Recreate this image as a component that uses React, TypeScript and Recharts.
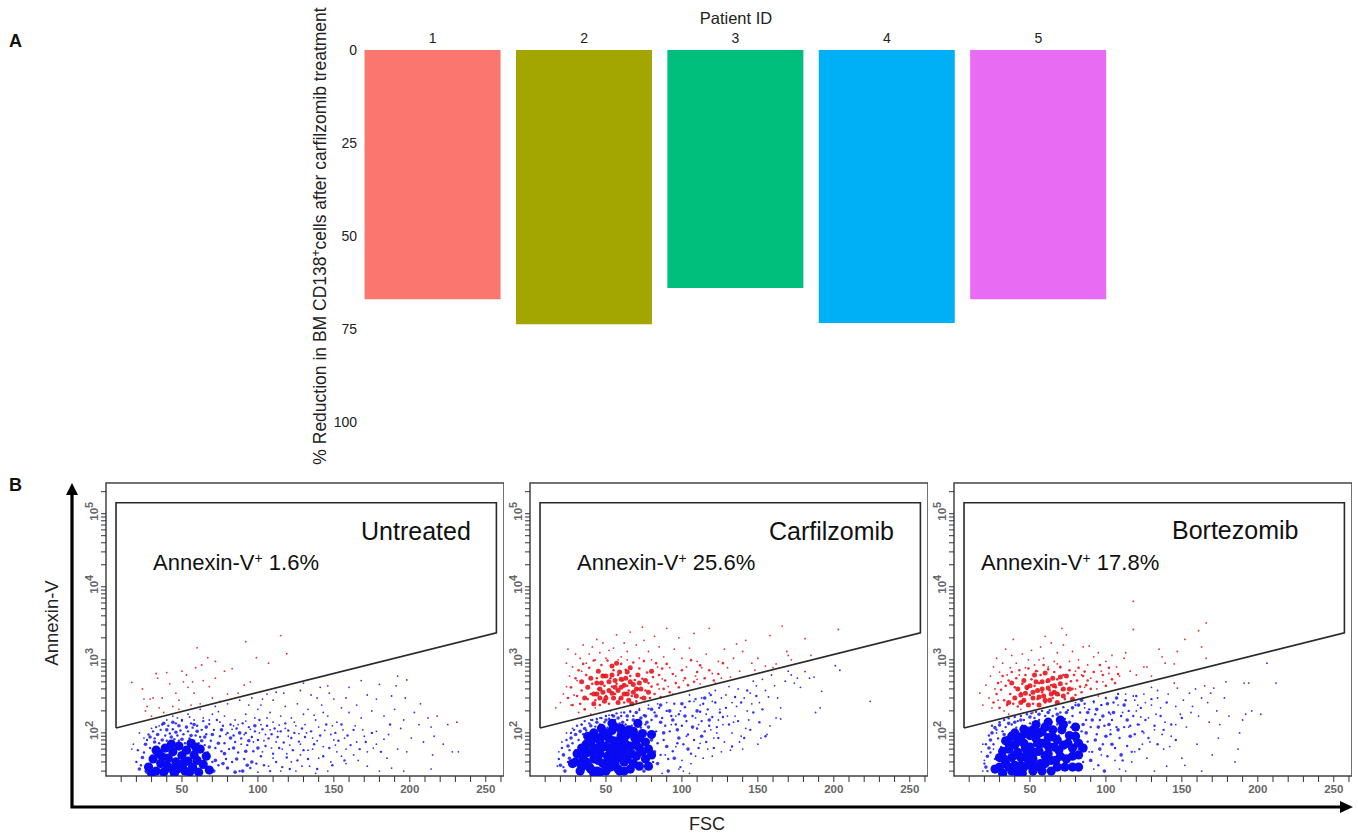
import React from "react";
import { BarChart, Bar, Cell, XAxis, YAxis, ScatterChart, Scatter, ReferenceArea } from "recharts";

type P = [number, number];

const patientIds = ["1", "2", "3", "4", "5"];
const reductionValues = [67, 73.7, 64, 73.4, 67];
const patientColors = ["#FB766E", "#A3A500", "#00BF7D", "#00B0F6", "#E76BF3"];
const reductionTicks = [0, 25, 50, 75, 100];

const fscTicks = [10, 20, 30, 40, 50, 60, 70, 80, 90, 100, 110, 120, 130, 140, 150, 160, 170, 180, 190, 200, 210, 220, 230, 240, 250, 260];
const annexinTicks = [30, 40, 50, 60, 70, 80, 90, 100, 200, 300, 400, 500, 600, 700, 800, 900, 1000, 2000, 3000, 4000, 5000, 6000, 7000, 8000, 9000, 10000, 20000, 30000, 40000, 50000, 60000, 70000, 80000, 90000, 100000, 200000];
const gateVertices: P[] = [[6.6, 117], [6.6, 141000], [257, 141000], [257, 2340], [6.6, 117]];

const untreatedCore: P[] = [[28,34],[31,44],[33,30],[35,52],[36,38],[38,29],[39,62],[41,45],[42,33],[44,55],[45,28],[46,40],[48,66],[49,35],[50,49],[52,30],[53,58],[54,41],[56,72],[57,34],[58,50],[60,42],[61,29],[62,60],[33,58],[37,47],[43,70],[47,32],[51,38],[55,29],[59,64],[30,28],[40,36],[64,37],[66,48],[68,31]];
const untreatedMid: P[] = [[22,32],[24,46],[26,70],[27,29],[29,88],[32,75],[34,95],[37,80],[40,110],[43,88],[46,102],[50,82],[53,120],[56,92],[60,105],[63,78],[66,120],[68,64],[70,95],[72,42],[74,72],[76,110],[78,52],[80,33],[82,85],[84,62],[86,44],[88,100],[90,30],[92,56],[94,78],[96,40],[98,125],[100,62],[71,30],[77,38],[85,29],[93,36],[65,88],[58,130],[48,125],[38,135],[44,140]];
const untreatedExtra: P[] = [[20,40],[21,58],[23,36],[25,54],[26,30],[27,80],[28,95],[29,62],[31,105],[32,84],[33,120],[35,72],[36,110],[37,130],[39,92],[40,78],[41,125],[42,98],[44,112],[45,82],[46,135],[47,92],[48,78],[49,108],[50,150],[51,96],[52,72],[54,105],[55,84],[56,135],[57,118],[58,78],[59,92],[60,125],[61,72],[62,88],[63,110],[64,145],[65,68],[66,96],[67,54],[68,132],[69,78],[70,40],[71,110],[72,62],[73,150],[74,36],[75,90],[76,56],[77,125],[78,72],[79,44],[80,100],[81,60],[82,130],[83,40],[84,92],[85,75],[86,115],[87,54],[88,30],[89,84],[90,135],[91,44],[92,100],[93,68],[94,120],[95,33],[96,88],[97,56],[98,105],[99,38],[100,80],[101,150],[102,48],[103,112],[104,36],[105,66],[106,125],[107,84],[108,30],[109,96],[110,52],[111,115],[112,40],[113,88],[114,62],[115,105],[116,34],[117,74],[118,135],[119,46],[120,108],[121,32],[122,85],[123,58],[124,100],[126,42],[127,76],[129,115],[130,58],[131,88],[133,44],[135,105],[137,70],[139,32],[141,92],[143,48],[145,130],[147,62],[149,36],[151,100],[153,78],[155,130],[157,42],[159,92],[161,68],[163,110],[167,60],[171,75],[175,100],[181,55],[187,130]];
const untreatedSparse: P[] = [[192,600],[198,530],[168,520],[180,460],[191,440],[160,420],[146,440],[141,420],[130,480],[128,380],[117,350],[106,340],[112,360],[135,330],[139,300],[150,290],[147,350],[158,300],[172,330],[178,290],[188,320],[197,300],[207,250],[165,240],[155,220],[142,240],[133,210],[126,250],[118,230],[110,280],[103,290],[96,300],[88,280],[80,250],[72,230],[62,210],[54,180],[44,170],[92,180],[100,210],[108,190],[115,170],[122,160],[130,180],[138,150],[146,170],[152,140],[160,190],[168,160],[175,200],[183,170],[190,210],[196,150],[203,190],[212,160],[218,170],[225,130],[231,140],[214,120],[206,130],[102,130],[110,140],[118,115],[125,125],[132,100],[140,120],[148,95],[156,110],[164,125],[170,90],[178,105],[186,95],[194,115],[201,85],[209,75],[216,90],[222,70],[228,55],[232,55],[215,50],[198,55],[192,60],[185,45],[178,70],[172,55],[165,75],[158,60],[150,80],[143,65],[136,85],[128,70],[120,90],[112,75],[105,95],[103,55],[110,45],[116,60],[122,40],[128,50],[134,35],[140,45],[146,30],[152,55],[158,38],[166,42],[172,35],[180,30],[188,33],[196,30],[214,32],[125,30],[115,30],[107,35],[100,29],[138,28],[148,40],[155,48],[85,150],[78,170],[70,180],[64,160],[58,150],[50,145],[75,140],[92,145],[98,160],[106,160],[84,125],[18,70],[17,60],[22,100],[25,85],[30,115],[35,125],[40,150],[47,160],[55,165],[104,78],[113,105],[121,68],[127,98],[133,58],[139,78],[144,108],[151,68],[157,85],[163,50],[169,110],[176,62],[183,82],[124,140],[131,130],[137,175],[143,190],[149,125],[136,60],[129,35],[119,52],[109,62],[101,100],[95,112],[89,70],[83,112],[87,130],[79,95],[91,95],[97,75],[108,110],[114,128],[94,240],[102,240],[74,195],[68,150]];
const untreatedRed: P[] = [[17,490],[60,1460],[115,2150],[119,1210],[92,1770],[99,1070],[107,900],[67,1070],[72,950],[24,400],[25,290],[27,230],[29,290],[31,300],[33,650],[34,560],[37,300],[40,670],[35,220],[42,470],[44,230],[46,350],[48,280],[50,700],[51,500],[53,620],[54,420],[57,500],[58,350],[59,780],[63,850],[64,520],[68,430],[70,300],[72,560],[75,270],[78,700],[83,760],[87,350],[91,450],[95,500],[80,340],[62,250],[56,240],[48,210],[38,190],[30,170],[26,200]];

const carfilzomibCore: P[] = [[28,38],[31,52],[33,30],[35,44],[37,70],[39,34],[41,56],[43,85],[45,42],[46,29],[48,64],[50,100],[51,48],[53,34],[55,78],[56,120],[58,55],[60,92],[62,40],[63,70],[65,110],[67,52],[69,85],[71,135],[38,90],[42,28],[47,115],[54,135],[59,30],[66,32],[72,62],[74,98],[76,44],[52,62],[44,62],[36,55],[30,40],[57,45],[34,34],[34,62],[37,40],[38,54],[40,32],[40,72],[42,44],[42,100],[44,30],[46,52],[46,78],[48,38],[48,92],[50,30],[50,66],[52,42],[52,84],[54,54],[54,108],[56,38],[56,66],[58,32],[58,78],[60,46],[60,66],[60,115],[62,30],[62,56],[62,85],[64,44],[64,95],[66,66],[68,38],[68,105],[70,48],[70,68],[72,35],[72,85],[74,55],[76,75],[78,35],[78,60],[80,50],[80,95]];
const carfilzomibMid: P[] = [[20,36],[22,50],[23,30],[25,66],[26,45],[27,85],[30,95],[33,105],[36,115],[40,125],[44,140],[50,150],[58,160],[64,170],[70,190],[76,170],[78,120],[80,80],[82,55],[84,38],[86,140],[88,100],[90,65],[92,200],[94,150],[95,45],[97,110],[98,85],[100,250],[102,170],[104,60],[80,210],[86,240],[91,30],[75,30],[107,120],[110,200],[113,90],[115,300],[118,150],[83,170],[77,140],[73,160],[68,150],[61,140],[55,170]];
const carfilzomibExtra: P[] = [[19,44],[21,62],[22,34],[24,80],[25,40],[26,58],[27,100],[28,72],[29,110],[30,58],[31,125],[32,80],[33,66],[34,130],[35,96],[36,145],[37,108],[38,62],[39,135],[40,84],[41,150],[42,104],[43,122],[44,155],[45,96],[46,130],[47,160],[48,88],[49,140],[50,170],[51,118],[52,156],[53,98],[54,175],[55,125],[56,150],[57,185],[58,104],[59,135],[60,170],[61,110],[62,190],[63,130],[64,150],[65,60],[66,195],[67,125],[68,170],[69,62],[70,140],[71,100],[72,205],[73,118],[74,46],[75,175],[76,130],[77,64],[78,215],[79,95],[80,150],[81,40],[82,190],[83,105],[84,72],[85,220],[86,50],[87,160],[88,80],[89,125],[90,200],[91,44],[92,105],[93,170],[94,56],[95,250],[96,130],[97,72],[98,180],[99,34],[100,125],[101,70],[102,225],[103,145],[104,95],[105,270],[106,52],[107,170],[108,80],[109,290],[110,115],[111,62],[112,195],[113,145],[114,250],[115,105],[116,75],[117,210],[118,125],[119,330],[120,165],[121,62],[122,260],[123,120],[124,85],[125,190],[127,165],[129,220],[131,130],[133,65],[135,310],[137,145],[139,260],[141,85],[143,380],[145,110],[147,190],[149,320],[151,140],[153,210],[155,90]];
const carfilzomibSparse: P[] = [[105,330],[108,270],[112,240],[116,180],[120,270],[122,380],[125,210],[127,130],[129,330],[131,430],[133,260],[135,170],[137,400],[139,90],[141,300],[143,200],[145,350],[147,510],[149,440],[151,260],[153,540],[155,380],[157,310],[159,620],[161,440],[163,300],[165,220],[168,510],[170,700],[172,620],[174,480],[176,560],[178,420],[181,690],[184,560],[187,580],[192,370],[191,220],[188,190],[201,830],[204,720],[224,270],[150,70],[152,85],[156,95],[158,125],[162,160],[165,155],[140,60],[138,75],[133,100],[128,75],[126,55],[123,100],[121,85],[117,60],[114,45],[112,72],[109,48],[106,38],[103,90],[100,42],[98,32],[96,65],[93,130],[89,50],[87,28],[111,130],[119,110],[124,150],[134,140],[144,150],[130,170],[142,115],[146,250],[136,230],[126,300],[118,350],[113,300],[109,160],[99,200],[96,170],[90,260],[84,250],[78,240],[72,215],[66,200],[60,190],[52,175],[46,160],[40,150],[34,130],[28,115],[24,100],[21,75],[19,55],[18,35],[101,30],[105,28],[120,48],[132,58]];
const carfilzomibRedCore: P[] = [[36,300],[38,420],[40,560],[42,250],[44,340],[45,700],[47,480],[49,270],[50,600],[52,380],[54,820],[55,300],[56,520],[58,260],[59,680],[60,420],[62,340],[63,560],[65,280],[66,780],[68,460],[70,320],[71,620],[73,400],[75,300],[76,520],[78,360],[80,700],[48,360],[57,900],[34,500],[67,250],[42,340],[44,480],[46,400],[48,600],[50,300],[52,500],[54,350],[56,420],[58,380],[60,540],[60,300],[62,450],[64,340],[66,500],[68,360],[70,400],[72,480],[54,620],[46,300],[64,680]];
const carfilzomibRedExtra: P[] = [[25,300],[27,420],[28,240],[30,560],[31,320],[32,720],[33,250],[34,380],[35,880],[36,210],[37,620],[38,290],[39,780],[40,340],[41,470],[42,980],[43,280],[44,560],[45,400],[46,240],[47,850],[48,620],[49,440],[50,320],[51,980],[52,250],[53,560],[54,430],[55,720],[56,340],[57,470],[58,620],[59,290],[60,880],[61,520],[62,260],[63,730],[64,440],[65,380],[66,600],[67,320],[68,920],[69,530],[70,270],[71,400],[72,760],[73,300],[74,550],[75,960],[76,380],[77,670],[78,480],[79,300],[80,430],[81,580],[82,340],[83,900],[84,460],[85,620],[86,310],[87,760],[88,400],[89,520],[90,880],[92,360],[94,640],[96,480],[98,420],[100,720],[102,560],[104,450],[106,990],[108,500],[110,680],[112,840],[115,560],[118,720],[121,520],[124,640],[127,900]];
const carfilzomibRed: P[] = [[17,220],[20,260],[22,340],[24,430],[24,900],[25,1400],[26,600],[27,240],[28,800],[29,330],[30,1200],[31,520],[32,190],[33,1050],[34,700],[35,1600],[36,210],[37,900],[39,1200],[40,180],[41,1500],[43,1000],[44,1900],[46,1250],[48,1700],[50,1050],[52,1350],[55,1450],[57,2200],[60,1100],[62,1700],[64,1300],[66,2400],[70,1600],[72,1050],[74,2800],[75,1850],[78,1300],[80,1000],[82,2100],[84,800],[85,1500],[87,550],[88,1100],[90,2700],[91,430],[92,780],[95,1400],[96,600],[98,2000],[100,1050],[101,520],[103,800],[105,1450],[108,2300],[109,600],[110,950],[112,470],[113,780],[116,1200],[118,2700],[120,650],[122,480],[124,950],[126,560],[128,1400],[130,780],[132,580],[134,1050],[136,1650],[138,700],[140,1300],[142,1850],[146,900],[148,720],[150,1050],[155,820],[158,2150],[162,880],[166,2900],[169,1300],[172,1000],[181,1950],[185,1150],[203,2600],[170,1150],[160,780],[110,540],[94,340],[85,400],[70,260],[64,1000],[58,1000],[53,200],[43,220]];

const bortezomibCore: P[] = [[27,32],[30,46],[32,28],[34,38],[36,60],[38,30],[40,50],[42,76],[44,36],[45,28],[47,62],[49,42],[50,92],[52,30],[53,54],[55,72],[57,38],[58,104],[60,48],[62,66],[64,30],[65,88],[67,42],[69,58],[71,110],[73,34],[75,72],[78,48],[80,90],[34,78],[46,112],[54,130],[62,140],[70,150],[40,100],[82,34],[85,62],[30,34],[32,56],[33,44],[36,34],[36,72],[38,46],[38,90],[40,36],[40,68],[42,28],[42,54],[44,46],[44,88],[46,34],[46,72],[48,52],[48,100],[50,36],[50,64],[52,44],[52,110],[54,34],[54,84],[56,56],[56,100],[58,30],[58,72],[60,38],[60,120],[62,52],[62,86],[64,42],[65,110],[66,64],[68,34],[68,80],[70,48],[72,68],[72,130],[74,44],[76,92],[78,34],[78,62],[80,120],[82,50],[82,72]];
const bortezomibMid: P[] = [[21,34],[22,48],[23,62],[24,80],[25,100],[27,118],[30,128],[33,95],[36,135],[40,140],[44,150],[50,165],[56,180],[62,190],[68,180],[74,190],[78,220],[82,240],[85,130],[87,100],[88,190],[90,42],[91,150],[93,80],[94,210],[95,120],[96,60],[98,170],[99,30],[100,90],[101,250],[102,130],[104,70],[105,190],[107,300],[108,110],[110,50],[112,240],[114,150],[116,90],[84,280],[76,140],[72,130]];
const bortezomibExtra: P[] = [[20,38],[21,70],[22,30],[23,92],[24,54],[25,125],[26,70],[27,44],[28,110],[29,84],[30,140],[31,64],[32,105],[33,150],[34,120],[35,88],[36,158],[37,100],[38,130],[39,76],[40,165],[41,118],[42,145],[43,92],[44,170],[45,125],[46,150],[47,88],[48,180],[49,118],[50,135],[51,185],[52,105],[53,160],[54,195],[55,118],[56,150],[57,78],[58,200],[59,130],[60,170],[61,95],[63,205],[64,120],[65,170],[66,62],[67,215],[68,130],[69,92],[70,190],[71,60],[72,225],[73,155],[74,96],[75,205],[76,50],[77,120],[78,170],[79,78],[80,240],[81,130],[82,60],[83,190],[84,105],[85,40],[86,250],[87,150],[88,76],[89,210],[90,120],[91,55],[92,270],[93,180],[94,96],[95,36],[96,150],[97,240],[98,70],[99,125],[100,300],[101,48],[102,190],[103,96],[104,150],[105,260],[106,62],[107,120],[108,340],[109,85],[110,170],[111,42],[112,120],[113,280],[114,66],[115,200],[116,125],[117,55],[118,170],[119,96],[120,320],[121,130],[122,60],[123,220],[124,105],[126,150],[128,85],[130,290],[132,125],[134,70],[136,170],[138,110],[140,260],[143,130],[146,80],[150,160]];
const bortezomibSparse: P[] = [[118,320],[120,200],[122,130],[124,70],[126,260],[128,160],[130,420],[132,110],[134,300],[136,220],[138,60],[139,140],[141,340],[143,90],[145,480],[147,410],[149,180],[151,280],[153,120],[155,350],[157,230],[159,400],[161,170],[163,300],[165,440],[167,260],[169,350],[171,410],[173,200],[175,130],[178,300],[179,500],[181,170],[187,60],[188,100],[190,150],[191,480],[192,180],[194,480],[196,200],[202,180],[206,900],[212,480],[150,45],[152,36],[163,30],[140,35],[132,30],[127,45],[119,55],[117,40],[113,30],[109,32],[106,42],[103,110],[97,50],[92,32],[89,55],[115,120],[121,240],[125,100],[129,75],[133,180],[137,95],[142,65],[146,130],[123,165],[111,190],[103,180],[97,240],[92,260],[86,220],[80,260],[125,340],[119,280],[113,340],[108,240],[146,230],[156,190],[168,140],[174,85],[160,70],[170,50],[185,40],[28,100],[26,60],[20,42],[19,70],[18,55],[19,30],[130,240],[134,380]];
const bortezomibRedCore: P[] = [[40,300],[42,400],[44,260],[46,520],[47,350],[49,240],[50,440],[52,300],[53,620],[55,380],[56,240],[58,500],[59,320],[60,660],[62,410],[63,280],[65,560],[66,360],[68,260],[70,470],[72,320],[38,480],[36,260],[74,600],[76,400],[78,290],[44,330],[46,280],[48,420],[52,360],[54,500],[56,310],[58,400],[60,280],[62,520],[64,340],[66,440],[68,340],[70,580],[72,400]];
const bortezomibRedExtra: P[] = [[26,260],[28,340],[29,480],[30,220],[31,390],[32,600],[33,280],[34,440],[35,240],[36,520],[37,340],[38,680],[39,250],[40,420],[41,560],[42,230],[43,720],[44,350],[45,470],[46,270],[47,620],[48,400],[49,760],[50,330],[51,540],[52,250],[53,440],[54,700],[55,290],[56,480],[57,620],[58,360],[59,850],[60,260],[61,500],[62,740],[63,380],[64,450],[65,300],[66,680],[67,420],[68,540],[69,330],[70,800],[71,390],[72,620],[73,290],[74,470],[75,350],[76,720],[77,510],[78,400],[79,620],[80,330],[81,520],[82,780],[83,430],[84,360],[85,600],[86,690],[87,450],[88,520],[90,400],[92,680],[94,500],[96,850],[98,620],[100,440],[102,780],[104,540],[106,480],[108,640]];
const bortezomibRed: P[] = [[17,350],[19,240],[21,450],[23,300],[24,600],[25,220],[26,800],[27,400],[28,1050],[29,280],[30,680],[31,500],[32,900],[33,200],[34,1400],[35,620],[37,780],[38,1150],[39,1900],[41,900],[43,620],[45,1200],[47,780],[49,1000],[51,1350],[53,850],[55,700],[57,1500],[59,1050],[60,2100],[62,800],[64,1700],[66,950],[68,1250],[70,780],[71,2700],[72,1600],[74,2200],[76,950],[78,1300],[80,700],[82,1000],[84,620],[85,1500],[86,420],[88,850],[89,1550],[90,560],[92,1100],[94,400],[95,1250],[97,700],[98,500],[100,950],[102,650],[104,1150],[107,800],[109,600],[112,1050],[113,1250],[116,700],[118,2600],[118,6300],[120,620],[125,800],[127,800],[130,600],[135,1400],[137,1100],[139,900],[145,880],[147,1300],[152,1900],[161,2500],[163,1500],[166,3200],[166,1050],[85,300],[95,320],[80,400],[68,880],[56,1000],[44,210],[52,190],[36,180]];

const toRows = (points: P[]) => points.map(([x, y]) => ({ x, y }));
const BLUE = "#0A0AF2";
const RED = "#E8141C";

const dot = (r: number, color: string, opacity = 1) => (props: any) => (
  <circle cx={props.cx} cy={props.cy} r={r} fill={color} opacity={opacity} />
);

const FscTick = (props: any) => {
  if (props.payload.value % 50 !== 0) return <g />;
  return (
    <text x={props.x} y={props.y + 9} textAnchor="middle" fontSize={11.5} fill="#666" fontFamily="Liberation Sans" fontWeight={700}>
      {props.payload.value}
    </text>
  );
};

const AnnexinTick = (props: any) => {
  const exponent = Math.log10(props.payload.value);
  if (Math.abs(exponent - Math.round(exponent)) > 1e-6) return <g />;
  const lx = props.x - 1;
  const ly = props.y + 7;
  return (
    <text transform={`rotate(-90 ${lx} ${ly})`} x={lx} y={ly} fontSize={11.5} fill="#666" fontFamily="Liberation Sans" fontWeight={700}>
      10<tspan dy={-5} fontSize={11}>{Math.round(exponent)}</tspan>
    </text>
  );
};

type PanelProps = { left: number; core: P[]; mid: P[]; extra: P[]; sparse: P[]; red: P[]; redCore?: P[]; redExtra?: P[] };

const Panel = ({ left, core, mid, extra, sparse, red, redCore, redExtra }: PanelProps) => (
  <div style={{ position: "absolute", left: left - 40, top: 473 }}>
    <ScatterChart width={438} height={350} margin={{ top: 10, right: 0, bottom: 0, left: 0 }}>
      <XAxis type="number" dataKey="x" domain={[0, 262]} ticks={fscTicks} interval={0} tick={FscTick} tickSize={6} height={47} axisLine={false} stroke="#333" />
      <YAxis type="number" dataKey="y" scale="log" domain={[25.7, 263000]} ticks={annexinTicks} interval={0} tick={AnnexinTick} tickSize={5} width={40} axisLine={false} stroke="#333" allowDataOverflow />
      <ReferenceArea x1={0} x2={262} y1={25.7} y2={263000} fill="none" stroke="#444" strokeWidth={1.5} />
      <Scatter data={toRows(sparse)} shape={dot(0.9, BLUE, 0.85)} isAnimationActive={false} />
      <Scatter data={toRows(core)} shape={dot(4.6, BLUE, 1)} isAnimationActive={false} />
      <Scatter data={toRows(mid)} shape={dot(1.8, BLUE, 0.8)} isAnimationActive={false} />
      <Scatter data={toRows(extra)} shape={dot(1.2, BLUE, 0.85)} isAnimationActive={false} />
      <Scatter data={toRows(red)} shape={dot(0.9, RED, 0.9)} isAnimationActive={false} />
      {redCore ? <Scatter data={toRows(redCore)} shape={dot(2.5, RED, 0.9)} isAnimationActive={false} /> : null}
      {redExtra ? <Scatter data={toRows(redExtra)} shape={dot(1.3, RED, 0.9)} isAnimationActive={false} /> : null}
      <Scatter data={toRows(gateVertices)} shape={() => <g />} line={{ stroke: "#2a2a2a", strokeWidth: 1.6 }} lineType="joint" isAnimationActive={false} />
    </ScatterChart>
  </div>
);

const font = "Liberation Sans";
const barRows = patientIds.map((id, i) => ({ id, value: reductionValues[i] }));

export default function App() {
  return (
    <div style={{ position: "absolute", left: 0, top: 0, width: 1358, height: 838, overflow: "hidden", background: "#fff", fontFamily: font }}>
      <div style={{ position: "absolute", left: 300, top: 0 }}>
        <BarChart width={830} height={440} data={barRows} margin={{ top: 30, right: 16, bottom: 18, left: 0 }} barCategoryGap="5%">
          <XAxis dataKey="id" orientation="top" axisLine={false} tickLine={false} height={20} tick={{ fontSize: 14, fill: "#222", fontFamily: font }} tickMargin={1} />
          <YAxis type="number" reversed domain={[0, 100]} ticks={reductionTicks} axisLine={false} tickLine={false} width={57} tick={{ fontSize: 14, fill: "#222", fontFamily: font }} tickMargin={0} tickSize={0} />
          <Bar dataKey="value" isAnimationActive={false}>
            {barRows.map((row, i) => <Cell key={row.id} fill={patientColors[i]} />)}
          </Bar>
        </BarChart>
      </div>

      <Panel left={106} core={untreatedCore} mid={untreatedMid} extra={untreatedExtra} sparse={untreatedSparse} red={untreatedRed} />
      <Panel left={530} core={carfilzomibCore} mid={carfilzomibMid} extra={carfilzomibExtra} sparse={carfilzomibSparse} red={carfilzomibRed} redCore={carfilzomibRedCore} redExtra={carfilzomibRedExtra} />
      <Panel left={953.5} core={bortezomibCore} mid={bortezomibMid} extra={bortezomibExtra} sparse={bortezomibSparse} red={bortezomibRed} redCore={bortezomibRedCore} redExtra={bortezomibRedExtra} />

      <svg width={1358} height={838} style={{ position: "absolute", left: 0, top: 0, pointerEvents: "none" }} fontFamily={font}>
        <text x={9} y={47} fontSize={18} fontWeight={700} fill="#111">A</text>
        <text x={9} y={491} fontSize={18} fontWeight={700} fill="#111">B</text>
        <text x={736} y={24} fontSize={16.5} textAnchor="middle" fill="#222">Patient ID</text>
        <text transform="rotate(-90 326 236)" x={326} y={236} fontSize={17.5} textAnchor="middle" fill="#222">
          % Reduction in BM CD138<tspan dy={-6} fontSize={12}>+</tspan><tspan dy={6}>cells after carfilzomib treatment</tspan>
        </text>

        <path d="M72 808 V492 M70.5 807 H1344" stroke="#000" strokeWidth={3.2} fill="none" />
        <polygon points="72,483 66,495 78,495" fill="#000" />
        <polygon points="1353,807 1340,801 1340,813" fill="#000" />
        <text transform="rotate(-90 58 623)" x={58} y={623} fontSize={18.5} textAnchor="middle" fill="#222">Annexin-V</text>
        <text x={707} y={830} fontSize={18} textAnchor="middle" fill="#222">FSC</text>

        <text x={361} y={540} fontSize={25} fill="#111">Untreated</text>
        <text x={769} y={540} fontSize={25} fill="#111">Carfilzomib</text>
        <text x={1172} y={539} fontSize={25} fill="#111">Bortezomib</text>
        {[[153, "1.6%"], [577, "25.6%"], [981, "17.8%"]].map(([x, v]) => (
          <text key={String(v)} x={x as number} y={570} fontSize={22} fill="#111">
            Annexin-V<tspan dy={-7} fontSize={14}>+</tspan><tspan dy={7}> {v}</tspan>
          </text>
        ))}
      </svg>
    </div>
  );
}
